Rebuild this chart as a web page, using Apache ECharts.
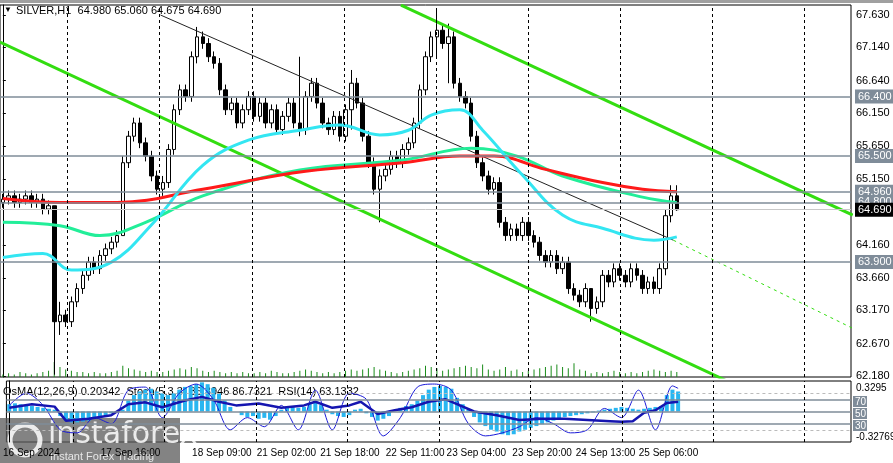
<!DOCTYPE html>
<html><head><meta charset="utf-8">
<script src="https://cdn.jsdelivr.net/npm/echarts@6/dist/echarts.min.js"></script>
<style>html,body{margin:0;padding:0;background:#fff}#c{width:893px;height:463px}</style>
</head><body><div id="c"></div>
<script>
// ---- data ----
const closes=[64.85,64.9,64.8,64.85,64.9,64.8,64.85,64.7,64.75,63.0,
63.1,63.0,63.3,63.5,63.7,63.9,63.8,64.0,64.1,64.2,
64.3,65.4,65.8,66.0,65.7,65.5,65.2,65.0,65.1,65.6,
66.2,66.5,66.4,67.0,67.3,67.2,67.0,66.9,66.5,66.2,
66.3,66.0,66.2,66.4,66.1,66.3,66.0,66.2,65.9,66.1,
66.3,66.0,65.9,66.4,66.6,66.3,66.0,65.9,66.1,65.8,
66.2,66.6,66.3,65.8,65.4,65.0,65.2,65.3,65.5,65.4,
65.6,65.7,66.0,66.5,67.0,67.3,67.4,67.2,67.3,66.6,
66.4,66.3,65.8,65.4,65.2,65.0,65.1,64.5,64.3,64.4,
64.3,64.5,64.3,64.2,64.0,63.9,64.0,63.8,63.9,63.5,
63.4,63.3,63.5,63.2,63.3,63.7,63.6,63.8,63.7,63.6,
63.8,63.7,63.5,63.6,63.5,63.8,64.6,64.9,64.69];
const firstOpen=64.8;
const wickOverrides={9:[64.75,62.2],10:[63.3,62.8],21:[65.5,64.3],28:[65.2,64.9],34:[67.45,66.9],52:[67.0,65.8],61:[66.8,65.9],66:[65.3,64.5],76:[67.7,67.0],78:[67.5,66.6],103:[63.3,63.0],116:[64.7,63.7],117:[65.06,64.5],118:[65.06,64.675]};
const volumes=[2,3,2,4,3,2,3,4,5,12,8,6,5,4,4,3,4,3,3,4,5,9,7,6,5,4,5,4,4,5,6,7,6,8,7,5,4,5,4,3,4,3,4,3,3,4,3,5,4,3,3,4,5,6,5,4,3,4,3,4,5,6,5,6,7,8,6,5,4,3,4,5,6,7,9,8,7,5,6,7,8,9,8,7,10,6,5,6,8,5,6,4,5,6,7,8,9,10,8,7,11,6,5,3,4,3,4,5,4,3,4,3,4,5,6,5,4,5,4];
const redMA=[[0,64.86],[10,64.8],[20,64.8],[35,65.0],[53,65.27],[70,65.4],[80,65.5],[86,65.5],[95,65.3],[105,65.1],[112,65.0],[118,64.96]];
const tealMA=[[0,64.5],[10,64.45],[17,64.3],[25,64.5],[35,64.9],[52,65.29],[70,65.44],[82,65.62],[90,65.5],[98,65.2],[112,64.88],[118,64.8]];
const cyanMA=[[0,63.97],[7,64.03],[12,63.78],[19,63.9],[26,64.46],[35,65.36],[43,65.74],[52,65.89],[59,65.97],[66,65.82],[71,65.89],[75,66.12],[80,66.2],[84,65.89],[91,65.21],[98,64.61],[105,64.41],[114,64.23],[118,64.28]];
const upperChannel=[[69.7,67.78],[148.8,64.61]];
const lowerChannel=[[-0.5,67.22],[148.8,61.22]];
const trendLine=[[27.6,67.63],[117.4,64.23]];
const trendExt=[[117.4,64.23],[148.8,62.9]];
const levels=[66.4,65.5,64.96,64.8,63.9];
const lastPrice=64.69;
const priceTicks=[67.63,67.14,66.64,66.15,65.65,65.15,64.16,63.66,63.17,62.67,62.18];
const dayLines=[11.3,27.4,43.6,59.7,75.8,92.0,108.1,124.2,140.3];
const timeLabels=['16 Sep 2024','17 Sep 16:00','18 Sep 09:00','21 Sep 02:00','21 Sep 18:00','22 Sep 11:00','23 Sep 04:00','23 Sep 20:00','24 Sep 13:00','25 Sep 06:00'];
const timePos=[3.9,21.4,37.5,48.9,60.1,71.6,82.4,94.0,105.2,116.3];
const osma=[0.08,0.09,0.08,0.07,0.06,0.05,0.04,0.03,0.02,-0.05,-0.1,-0.12,-0.12,-0.11,-0.1,-0.08,-0.06,-0.04,-0.02,0.0,
0.02,0.12,0.18,0.22,0.24,0.25,0.22,0.2,0.18,0.2,0.24,0.27,0.28,0.3,0.32,0.3,0.26,0.2,0.12,0.05,
0.0,-0.04,-0.06,-0.05,-0.08,-0.07,-0.09,-0.05,0.02,0.05,0.06,0.04,0.05,0.08,0.1,0.07,0.02,-0.03,-0.05,-0.06,
-0.04,0.02,0.03,-0.02,-0.06,-0.1,-0.08,-0.05,0.0,0.04,0.06,0.08,0.12,0.18,0.24,0.27,0.28,0.27,0.25,0.15,
0.08,0.02,-0.06,-0.12,-0.16,-0.2,-0.22,-0.25,-0.26,-0.25,-0.22,-0.2,-0.18,-0.16,-0.14,-0.12,-0.1,-0.08,-0.06,-0.05,
-0.04,-0.03,-0.02,-0.01,0.01,0.02,0.03,0.04,0.05,0.04,0.03,0.02,0.03,0.04,0.05,0.06,0.18,0.24,0.22];
const rsi=[[0,56],[4,62],[8,58],[10,35],[14,38],[18,44],[21,62],[24,65],[27,57],[31,68],[34,74],[37,66],[40,60],[44,63],[48,56],[52,60],[54,66],[57,56],[60,60],[62,66],[65,46],[68,52],[71,57],[74,66],[77,70],[79,62],[82,50],[86,44],[90,36],[94,38],[98,38],[102,36],[106,34],[108,33],[110,34],[112,48],[114,52],[116,64],[118,66]];
const stoch=[[0,60],[3,80],[6,60],[9,20],[12,15],[15,40],[18,30],[21,85],[24,90],[27,40],[30,80],[33,95],[36,70],[39,20],[42,40],[45,25],[48,60],[51,20],[54,85],[57,20],[60,80],[63,70],[66,10],[69,40],[72,90],[75,95],[78,85],[81,30],[84,10],[87,15],[90,25],[93,40],[96,30],[99,15],[102,20],[105,55],[108,40],[111,85],[114,20],[117,92],[118,88]];

// ---- build ----
const N=149, L=851;
const cats=[...Array(N).keys()];
const candle=closes.map((c,i)=>{const o=i?closes[i-1]:firstOpen;let h=Math.max(o,c)+0.08,l=Math.min(o,c)-0.08;if(wickOverrides[i]){h=wickOverrides[i][0];l=wickOverrides[i][1];}return [o,c,l,h];});
const ff='Liberation Sans';
const lvlLines=levels.map(v=>({yAxis:v,lineStyle:{color:'#7f8c99',width:1.5,type:'solid'},label:{show:true,position:'end',formatter:v.toFixed(3),color:'#fff',backgroundColor:'#7f8c99',padding:[2,3,1,3],fontSize:11,fontFamily:ff,distance:4}}));
lvlLines.push({yAxis:lastPrice,lineStyle:{color:'#c8c8c8',width:1,type:'solid'},label:{show:true,position:'end',formatter:lastPrice.toFixed(3),color:'#fff',backgroundColor:'#000',padding:[2,3,1,3],fontSize:11,fontFamily:ff,distance:4}});
const vlines=dayLines.map(x=>({xAxis:x}));
const chart=echarts.init(document.getElementById('c'));
chart.setOption({
 animation:false,backgroundColor:'#fff',
 grid:[{left:0,top:5,width:L,height:372,show:true,borderColor:'#000',borderWidth:1},
       {left:0,top:381,width:L,height:61,show:true,borderColor:'#000',borderWidth:1}],
 xAxis:[
  {type:'category',gridIndex:0,data:cats,boundaryGap:true,show:false},
  {type:'value',gridIndex:0,min:-0.5,max:N-0.5,show:false},
  {type:'category',gridIndex:1,data:cats,boundaryGap:true,show:false},
  {type:'value',gridIndex:1,min:-0.5,max:N-0.5,position:'bottom',axisLine:{show:false},axisTick:{show:false},splitLine:{show:false},
   axisLabel:{customValues:timePos,hideOverlap:false,showMinLabel:true,showMaxLabel:true,formatter:v=>timeLabels[timePos.indexOf(v)]||'',fontSize:10,fontFamily:ff,color:'#000',margin:6}}
 ],
 yAxis:[
  {type:'value',gridIndex:0,min:62.165,max:67.781,position:'right',splitLine:{show:false},axisLine:{show:true,lineStyle:{color:'#000'}},
   axisTick:{customValues:priceTicks,length:3,lineStyle:{color:'#000'}},axisLabel:{customValues:priceTicks,formatter:v=>v.toFixed(3),fontSize:11,fontFamily:ff,color:'#000',margin:5}},
  {type:'value',gridIndex:0,min:0,max:300,show:false},
  {type:'value',gridIndex:1,min:0,max:100,position:'right',splitLine:{show:false},axisLine:{show:true,lineStyle:{color:'#000'}},axisTick:{show:false},axisLabel:{show:false}},
  {type:'value',gridIndex:1,min:-0.335,max:0.335,show:false}
 ],
 series:[
  {type:'bar',xAxisIndex:0,yAxisIndex:1,data:volumes,barWidth:1,itemStyle:{color:'#1a8c1a'},silent:true},
  {type:'line',xAxisIndex:1,yAxisIndex:0,data:upperChannel,symbol:'none',lineStyle:{color:'#33dd11',width:3},
   markLine:{symbol:'none',silent:true,data:lvlLines}},
  {type:'line',xAxisIndex:1,yAxisIndex:0,data:lowerChannel,symbol:'none',lineStyle:{color:'#33dd11',width:3},
   markLine:{symbol:'none',silent:true,label:{show:false},lineStyle:{color:'#000',type:[3,3],width:1},data:vlines}},
  {type:'line',xAxisIndex:1,yAxisIndex:0,data:trendLine,symbol:'none',lineStyle:{color:'#222',width:1}},
  {type:'line',xAxisIndex:1,yAxisIndex:0,data:trendExt,symbol:'none',lineStyle:{color:'#33dd11',width:1,type:[3,4]}},
  {type:'line',xAxisIndex:1,yAxisIndex:0,data:tealMA,symbol:'none',smooth:0.4,lineStyle:{color:'#22ee99',width:3}},
  {type:'line',xAxisIndex:1,yAxisIndex:0,data:redMA,symbol:'none',smooth:0.4,lineStyle:{color:'#ff1a1a',width:3}},
  {type:'line',xAxisIndex:1,yAxisIndex:0,data:cyanMA,symbol:'none',smooth:0.4,lineStyle:{color:'#33e6f2',width:3}},
  {type:'candlestick',xAxisIndex:0,yAxisIndex:0,data:candle,barWidth:4,
   itemStyle:{color:'#fff',color0:'#000',borderColor:'#000',borderColor0:'#000',borderWidth:1}},
  {type:'bar',xAxisIndex:2,yAxisIndex:3,data:osma,barWidth:4,itemStyle:{color:'#29b6f0'}},
  {type:'line',xAxisIndex:3,yAxisIndex:2,data:stoch,symbol:'none',smooth:0.3,lineStyle:{color:'#1a1ad8',width:1},
   markLine:{symbol:'none',silent:true,label:{show:false},data:[
    {yAxis:70,lineStyle:{color:'#7f8c99',width:1.5,type:'solid'}},{yAxis:50,lineStyle:{color:'#7f8c99',width:1.5,type:'solid'}},{yAxis:30,lineStyle:{color:'#7f8c99',width:1.5,type:'solid'}},
    {yAxis:80,lineStyle:{color:'#bbb',width:1,type:[3,3]}},{yAxis:20,lineStyle:{color:'#bbb',width:1,type:[3,3]}}]}},
  {type:'line',xAxisIndex:3,yAxisIndex:2,data:rsi,symbol:'none',lineStyle:{color:'#1515b0',width:2.5},
   markLine:{symbol:'none',silent:true,label:{show:false},lineStyle:{color:'#000',type:[3,3],width:1},data:vlines}}
 ],
 graphic:[
  {type:'rect',left:0,top:0,shape:{width:893,height:3},style:{fill:'#a0a0a0'}},
  {type:'text',left:16,top:5,style:{text:'SILVER,H1  64.980 65.060 64.675 64.690',fontSize:11,fontFamily:ff,fill:'#000'}},
  {type:'text',left:4,top:6,style:{text:'▼',fontSize:8,fill:'#000'}},
  {type:'text',left:3,top:386,style:{text:'OsMA(12,26,9) 0.20342  Stoch(5,3,3) 86.3946 86.7321  RSI(14) 63.1332',fontSize:11,fontFamily:ff,fill:'#000'}},
  {type:'text',left:856,top:383,style:{text:'0.3295',fontSize:10,fontFamily:ff,fill:'#000'}},
  {type:'text',left:856,top:432,style:{text:'-0.32769',fontSize:10,fontFamily:ff,fill:'#000'}},
  {type:'rect',left:853,top:396,shape:{width:14,height:11},style:{fill:'#7f8c99'}},
  {type:'text',left:855,top:397,style:{text:'70',fontSize:10,fontFamily:ff,fill:'#fff'}},
  {type:'rect',left:853,top:408,shape:{width:14,height:11},style:{fill:'#7f8c99'}},
  {type:'text',left:855,top:409,style:{text:'50',fontSize:10,fontFamily:ff,fill:'#fff'}},
  {type:'rect',left:853,top:420,shape:{width:14,height:11},style:{fill:'#7f8c99'}},
  {type:'text',left:855,top:421,style:{text:'30',fontSize:10,fontFamily:ff,fill:'#fff'}},
  {type:'rect',left:0,top:418,shape:{width:180,height:45},style:{fill:'rgba(90,90,90,0.75)'}},
  {type:'text',left:48,top:420,style:{text:'instaforex',fontSize:30,fontFamily:'DejaVu Sans',fill:'rgba(255,255,255,0.85)'}},
  {type:'text',left:50,top:451,style:{text:'Instant Forex Trading',fontSize:11,fontFamily:ff,fill:'rgba(255,255,255,0.8)'}},
  {type:'circle',shape:{cx:25,cy:440,r:15},style:{fill:'none',stroke:'rgba(255,255,255,0.85)',lineWidth:5}}
 ]
});
</script></body></html>
